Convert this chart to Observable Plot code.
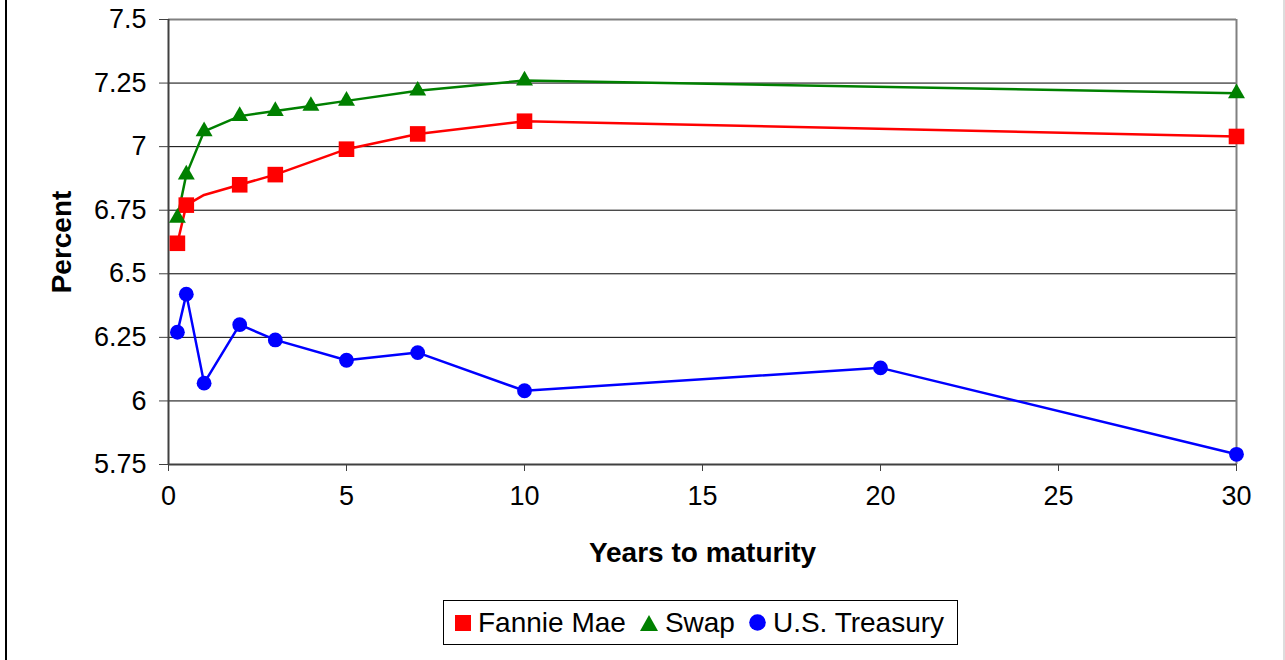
<!DOCTYPE html>
<html>
<head>
<meta charset="utf-8">
<script src="https://cdn.jsdelivr.net/npm/d3@7"></script>
<script src="https://cdn.jsdelivr.net/npm/@observablehq/plot@0.6"></script>
<style>
  html, body { margin: 0; padding: 0; background: #fff; }
  #wrap { position: relative; width: 1285px; height: 660px; overflow: hidden; font-family: "Liberation Sans", Arial, sans-serif; }
  #leftBorder { position: absolute; left: 5px; top: 0; width: 2px; height: 660px; background: #000; }
  #rightBorder { position: absolute; left: 1283px; top: 0; width: 2px; height: 660px; background: #ddd; }
  #legend { position: absolute; left: 443px; top: 600px; width: 515px; height: 45px; border: 1px solid #000; box-sizing: border-box;
    display: flex; align-items: center; justify-content: flex-start; padding-left: 11px; gap: 14px; font-size: 28px; color: #000; line-height: 1; }
  .item { display: flex; align-items: center; gap: 7px; }
</style>
</head>
<body>
<div id="wrap">
  <div id="chart"></div>
  <div id="leftBorder"></div>
  <div id="rightBorder"></div>
  <div id="legend"></div>
</div>
<script>
// ---- data ----
const fannieX = [0.25, 0.5, 1, 2, 3, 5, 7, 10, 30];
const fannieY = [6.62, 6.77, 6.81, 6.85, 6.89, 6.99, 7.05, 7.1, 7.04];
const fannieMarked = [true, true, false, true, true, true, true, true, true];

const swapX = [0.25, 0.5, 1, 2, 3, 4, 5, 7, 10, 30];
const swapY = [6.72, 6.89, 7.06, 7.12, 7.14, 7.16, 7.18, 7.22, 7.26, 7.21];

const treasuryX = [0.25, 0.5, 1, 2, 3, 5, 7, 10, 20, 30];
const treasuryY = [6.27, 6.42, 6.07, 6.30, 6.24, 6.16, 6.19, 6.04, 6.13, 5.79];

const seriesNames = ["Fannie Mae", "Swap", "U.S. Treasury"];
const seriesColors = ["#ff0000", "#008000", "#0000ff"];

const xTicks = [0, 5, 10, 15, 20, 25, 30];
const yTicks = [5.75, 6, 6.25, 6.5, 6.75, 7, 7.25, 7.5];

const xLabel = "Years to maturity";
const yLabel = "Percent";

// ---- build tables ----
const fannie = fannieX.map((x, i) => ({x, y: fannieY[i], marked: fannieMarked[i]}));
const swap = swapX.map((x, i) => ({x, y: swapY[i]}));
const treasury = treasuryX.map((x, i) => ({x, y: treasuryY[i]}));

const chart = Plot.plot({
  width: 1285,
  height: 590,
  marginTop: 19,
  marginLeft: 168,
  marginRight: 49,
  marginBottom: 126,
  style: { fontFamily: "Liberation Sans, Arial, sans-serif", fontSize: "27px", color: "#000", background: "#fff" },
  x: { domain: [0, 30], label: null },
  y: { domain: [5.75, 7.5], label: null },
  marks: [
    Plot.ruleY(yTicks.filter(v => v !== 7.5 && v !== 5.75), { stroke: "#000", strokeWidth: 1 }),
    Plot.ruleY([7.5], { stroke: "#808080", strokeWidth: 2 }),
    Plot.ruleX([30], { stroke: "#808080", strokeWidth: 2 }),
    Plot.ruleY([5.75], { stroke: "#404040", strokeWidth: 2 }),
    Plot.ruleX([0], { stroke: "#404040", strokeWidth: 2 }),
    Plot.line(fannie, { x: "x", y: "y", stroke: seriesColors[0], strokeWidth: 2.5 }),
    Plot.line(swap, { x: "x", y: "y", stroke: seriesColors[1], strokeWidth: 2.5 }),
    Plot.line(treasury, { x: "x", y: "y", stroke: seriesColors[2], strokeWidth: 2.5 }),
    Plot.dot(fannie, { filter: d => d.marked, x: "x", y: "y", symbol: "square", r: 8.8, fill: seriesColors[0], stroke: "none" }),
    Plot.dot(swap, { x: "x", y: "y", symbol: "triangle", r: 6.3, fill: seriesColors[1], stroke: "none" }),
    Plot.dot(treasury, { x: "x", y: "y", symbol: "circle", r: 7.4, fill: seriesColors[2], stroke: "none" }),
    Plot.axisX({ ticks: xTicks, tickSize: 7, tickPadding: 14, label: null, fontSize: 27, fill: "#000", stroke: "#404040" }),
    Plot.axisY({ ticks: yTicks, tickSize: 9, tickPadding: 13, tickFormat: d => String(d), label: null, fontSize: 27, fill: "#000", stroke: "#404040" }),
    Plot.text([xLabel], { frameAnchor: "bottom", dy: 97, fontSize: 28, fontWeight: "bold", fill: "#000" }),
    Plot.text([yLabel], { frameAnchor: "left", textAnchor: "middle", dx: -106, rotate: -90, fontSize: 28, fontWeight: "bold", fill: "#000" })
  ]
});
document.getElementById("chart").appendChild(chart);

// ---- legend ----
const legend = document.getElementById("legend");
const symbolSvgs = [
  '<svg width="16" height="16"><rect x="0" y="0" width="16" height="16" fill="' + seriesColors[0] + '"/></svg>',
  '<svg width="18" height="16"><polygon points="9,0 18,16 0,16" fill="' + seriesColors[1] + '"/></svg>',
  '<svg width="17" height="17"><circle cx="8.5" cy="8.5" r="8.3" fill="' + seriesColors[2] + '"/></svg>'
];
seriesNames.forEach((name, i) => {
  const el = document.createElement("div");
  el.className = "item";
  el.innerHTML = symbolSvgs[i] + "<span>" + name + "</span>";
  legend.appendChild(el);
});
</script>
</body>
</html>
